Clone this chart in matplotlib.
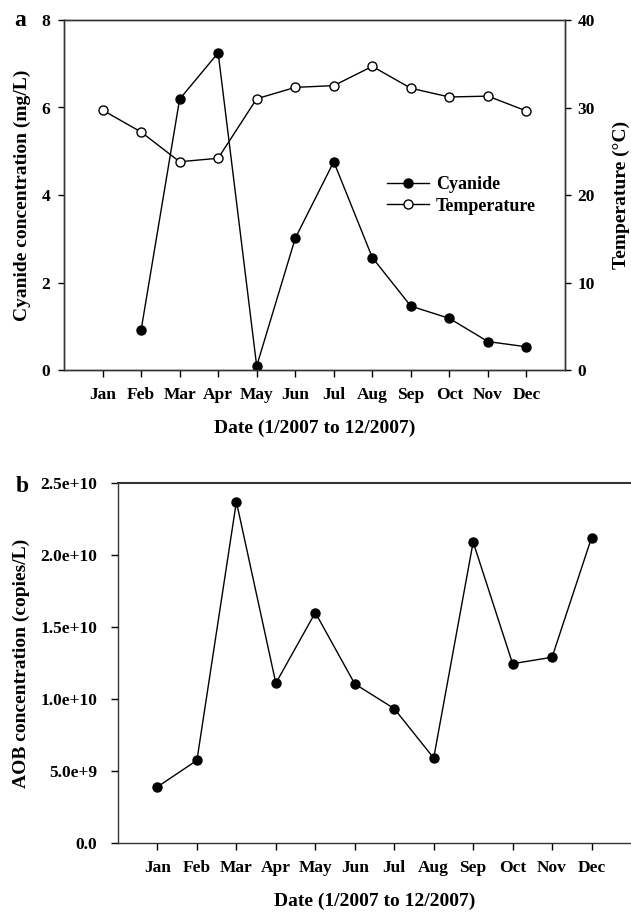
import matplotlib
matplotlib.use("Agg")
import matplotlib.pyplot as plt
import numpy as np

months = ["Jan", "Feb", "Mar", "Apr", "May", "Jun", "Jul", "Aug", "Sep", "Oct", "Nov", "Dec"]
cyanide = [np.nan, 0.91, 6.19, 7.25, 0.09, 3.01, 4.76, 2.57, 1.46, 1.18, 0.65, 0.53]
temperature = [29.7, 27.2, 23.8, 24.2, 31.0, 32.3, 32.5, 34.7, 32.2, 31.2, 31.3, 29.6]
aob = [3.9e9, 5.74e9, 2.37e10, 1.11e10, 1.60e10, 1.105e10, 9.33e9, 5.9e9, 2.09e10, 1.245e10, 1.29e10, 2.12e10]
aob_ticks = [0, 5e9, 1e10, 1.5e10, 2e10, 2.5e10]
aob_tick_labels = ["0.0", "5.0e+9", "1.0e+10", "1.5e+10", "2.0e+10", "2.5e+10"]
cy_ticks = [0, 2, 4, 6, 8]
temp_ticks = [0, 10, 20, 30, 40]

plt.rcParams['font.family'] = ['Liberation Serif', 'DejaVu Serif']
plt.rcParams['font.weight'] = 'bold'
plt.rcParams['axes.labelweight'] = 'bold'

W, H = 631, 913
fig = plt.figure(figsize=(W / 100, H / 100), dpi=100)

def frac(l, t, r, b):
    return [l / W, 1 - b / H, (r - l) / W, (b - t) / H]

def fx(px):
    return px / W

def fy(py):
    return 1 - py / H

x = np.arange(1, 13)
tick_fs = 12.5
lab_fs = 14
spine_c = "#333333"

# Panel a
ax1 = fig.add_axes(frac(64, 20, 565, 370))
ax1.plot(x, cyanide, color="black", lw=1.0, marker="o", ms=6.5, mfc="black",
         mec="black", label="Cyanide", zorder=3)
ax1.set_xlim(0, 13)
ax1.set_ylim(0, 8)
ax1.set_yticks(cy_ticks)
ax1.set_xticks(x)
ax1.set_xticklabels(months)
ax1.set_xlabel("Date (1/2007 to 12/2007)", fontsize=lab_fs, labelpad=12)

ax2 = ax1.twinx()
ax2.plot(x, temperature, color="black", lw=1.0, marker="o", ms=6.5, mfc="white",
         mec="black", mew=1.0, label="Temperature", zorder=3)
ax2.set_ylim(0, 40)
ax2.set_yticks(temp_ticks)

for a in (ax1, ax2):
    a.tick_params(direction="out", length=4, width=1, labelsize=tick_fs, colors="black")
    for s in a.spines.values():
        s.set_color(spine_c)
        s.set_linewidth(1.0)
ax1.tick_params(axis="x", pad=7, length=5)
ax1.tick_params(axis="y", pad=6)
ax2.tick_params(axis="y", pad=5)

fig.text(fx(22), fy(195), "Cyanide concentration (mg/L)", rotation=90, ha="center", va="center",
         fontsize=lab_fs, fontweight="bold")
fig.text(fx(621), fy(195), "Temperature (\u00b0C)", rotation=90, ha="center", va="center",
         fontsize=lab_fs, fontweight="bold")

h1, l1 = ax1.get_legend_handles_labels()
h2, l2 = ax2.get_legend_handles_labels()
ax2.legend(h1 + h2, l1 + l2, loc="upper left", bbox_to_anchor=((380 - 64) / (565 - 64), 1 - (169 - 20) / 350),
           frameon=False, fontsize=13, handlelength=2.3, handletextpad=0.4, labelspacing=0.25,
           borderaxespad=0)

fig.text(fx(14), fy(21), "a", fontsize=17, fontweight="bold", ha="left", va="center")

# Panel b
ax3 = fig.add_axes(frac(118, 483, 631, 843))
ax3.plot(x, aob, color="black", lw=1.0, marker="o", ms=6.5, mfc="black", mec="black", zorder=3)
ax3.set_xlim(0, 13)
ax3.set_ylim(0, 2.5e10)
ax3.set_yticks(aob_ticks)
ax3.set_yticklabels(aob_tick_labels)
ax3.set_xticks(x)
ax3.set_xticklabels(months)
ax3.set_xlabel("Date (1/2007 to 12/2007)", fontsize=lab_fs, labelpad=12)
ax3.spines["right"].set_visible(False)
ax3.tick_params(direction="out", length=5, width=1, labelsize=tick_fs, colors="black")
ax3.tick_params(axis="x", pad=7)
ax3.tick_params(axis="y", pad=10)
for s in ax3.spines.values():
    s.set_color(spine_c)
    s.set_linewidth(1.0)
ax3.spines["top"].set_linewidth(1.5)

fig.text(fx(21), fy(663), "AOB concentration (copies/L)", rotation=90, ha="center", va="center",
         fontsize=lab_fs, fontweight="bold")
fig.text(fx(16), fy(486), "b", fontsize=17, fontweight="bold", ha="left", va="center")

fig.savefig("out.png", dpi=100)
